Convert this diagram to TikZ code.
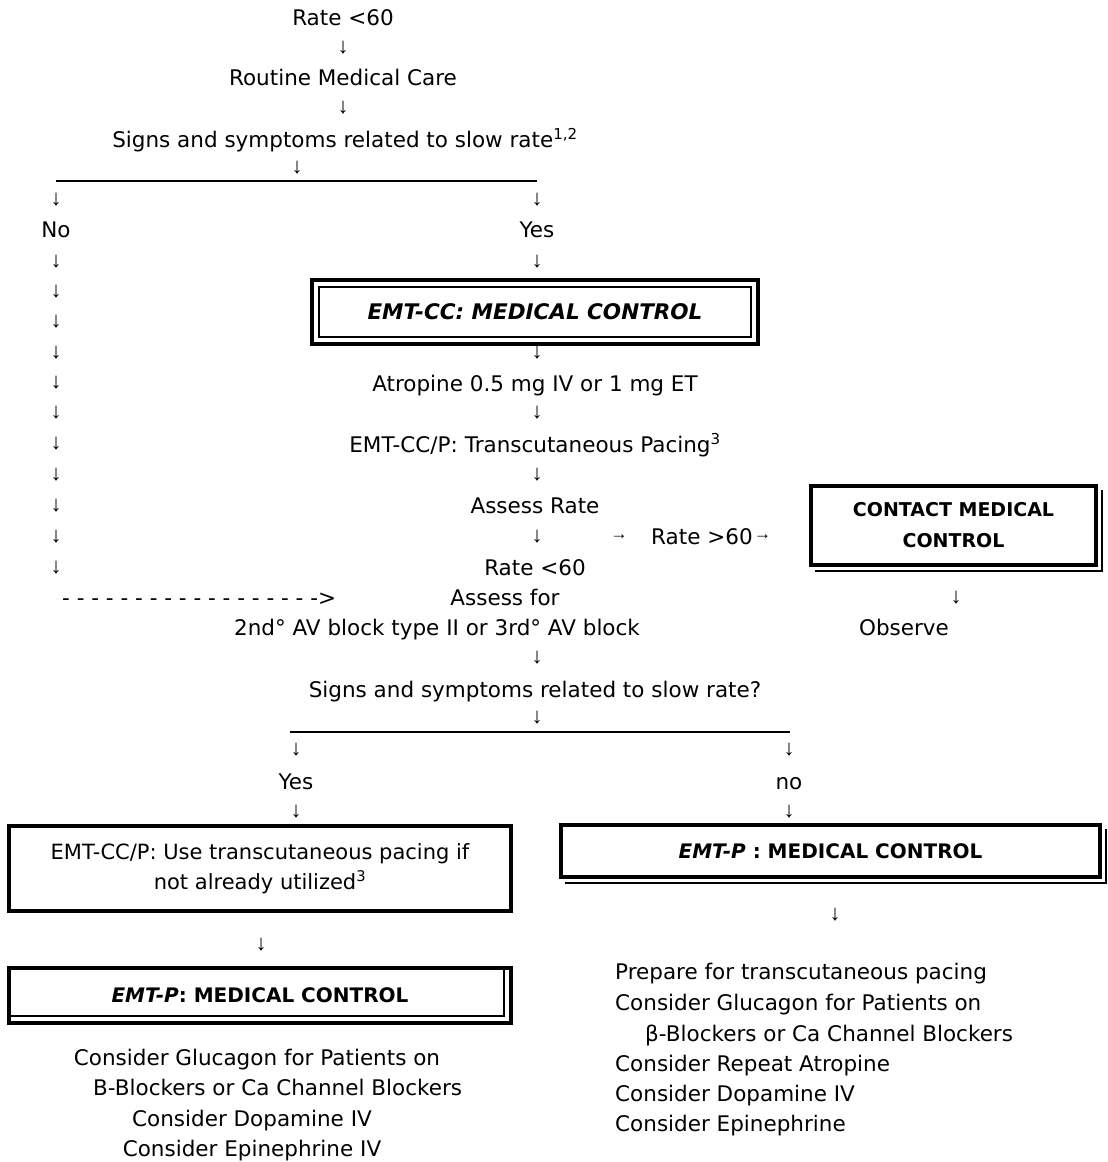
\documentclass[tikz,border=0pt]{standalone}
\usepackage{fontspec}
\setmainfont{DejaVu Sans}[BoldFont={DejaVu Sans Bold},ItalicFont={DejaVu Sans Oblique},BoldItalicFont={DejaVu Sans Bold Oblique}]
\newfontfamily\arrowfont{Liberation Sans}

\begin{document}
\begin{tikzpicture}[x=1pt, y=-1pt,
        txt/.style={anchor=base, inner sep=0pt, yshift=-7.5pt, font=\fontsize{21.5}{30}\selectfont},
        ltxt/.style={txt, anchor=base west},
        dn/.style={inner sep=0pt, font=\arrowfont\fontsize{22}{22}\selectfont},
        sm/.style={inner sep=0pt, font=\arrowfont\fontsize{17}{17}\selectfont},
        frame/.style={draw, line width=4pt, inner sep=0pt, outer sep=0pt, align=center},
        rule/.style={line width=2pt},
        thinline/.style={line width=1.5pt}]
        \useasboundingbox (0,0) rectangle (1108,1162);

        \node[txt] (rate) at (343,18) {Rate <60};
        \node[dn] (d1) at (343,48) {↓};
        \node[txt] (care) at (343,78) {Routine Medical Care};
        \node[dn] (d2) at (343,108) {↓};
        \node[txt] (signs) at (345,140) {Signs and symptoms related to slow rate\textsuperscript{1,2}};
        \node[dn] (d3) at (297,168) {↓};
        \coordinate (splitL) at (56,181);
        \coordinate (splitR) at (537,181);
        \draw[rule] (splitL) -- (splitR);
        \node[dn] (dno) at (56,200) {↓};
        \node[dn] (dyes) at (537,200) {↓};
        \node[txt] (no) at (56,230) {No};
        \node[txt] (yes) at (537,230) {Yes};
        \foreach \y [count=\i] in {262,292,322,353,383,413,444,475,506,537,568}
        {
            \node[dn] (nocol\i) at (56,\y) {↓};
        }

        \node[dn] (d4) at (537,262) {↓};
        \node[frame, minimum width=446pt, minimum height=64pt, font=\bfseries\itshape\fontsize{21.5}{26}\selectfont] (emtcc) at (535,312) {EMT-CC: MEDICAL CONTROL};
        \draw[thinline] ([shift={(7pt,-7pt)}]emtcc.north west) rectangle ([shift={(-7pt,7pt)}]emtcc.south east);
        \node[dn] (d5) at (537,353) {↓};
        \node[txt] (atro) at (535,384) {Atropine 0.5 mg IV or 1 mg ET};
        \node[dn] (d6) at (537,413) {↓};
        \node[txt] (pacing) at (535,445) {EMT-CC/P: Transcutaneous Pacing\textsuperscript{3}};
        \node[dn] (d7) at (537,475) {↓};
        \node[txt] (assess) at (535,506) {Assess Rate};
        \node[dn] (d8) at (537,537) {↓};
        \node[sm] (r1) at (619,537) {→};
        \node[ltxt] (gt) at (651,537) {Rate >60};
        \node[sm, anchor=west] (r2) at ([xshift=1pt]gt.east) {→};
        \node[txt] (lt) at (535,568) {Rate <60};

        \node[frame, minimum width=285pt, minimum height=79pt, font=\bfseries\fontsize{19}{31}\selectfont] (contact) at (953.5,525.5) {CONTACT MEDICAL\\CONTROL};
        \draw[thinline] ([shift={(6pt,-4pt)}]contact.north east) |- ([shift={(4pt,-6pt)}]contact.south west);
        \node[dn] (d9) at (956,598) {↓};
        \node[txt] (observe) at (904,628) {Observe};

        \node[ltxt] (dash) at (62,598) {- - - - - - - - - - - - - - - - - ->};
        \node[txt] (assessfor) at (505,598) {Assess for};
        \node[txt] (block) at (437,628) {2nd° AV block type II or 3rd° AV block};
        \node[dn] (d10) at (537,658) {↓};
        \node[txt] (signs2) at (535,690) {Signs and symptoms related to slow rate?};
        \node[dn] (d11) at (537,718) {↓};
        \coordinate (split2L) at (290,732);
        \coordinate (split2R) at (790,732);
        \draw[rule] (split2L) -- (split2R);
        \node[dn] (dyes2) at (296,750) {↓};
        \node[dn] (dno2) at (789,750) {↓};
        \node[txt] (yes2) at (296,782) {Yes};
        \node[txt] (no2) at (789,782) {no};
        \node[dn] (dyes3) at (296,812) {↓};
        \node[dn] (dno3) at (789,812) {↓};

        \node[frame, minimum width=502pt, minimum height=85pt, font=\fontsize{21}{30}\selectfont] (pace) at (260,868.5) {EMT-CC/P: Use transcutaneous pacing if\\not already utilized\textsuperscript{3}};
        \node[dn] (d12) at (261,945) {↓};
        \node[frame, minimum width=502pt, minimum height=55pt, font=\bfseries\fontsize{20}{24}\selectfont] (emtpl) at (260,995.5) {{\itshape EMT-P}: MEDICAL CONTROL};
        \draw[thinline] ([shift={(-7pt,-2pt)}]emtpl.north east) |- ([shift={(2pt,7pt)}]emtpl.south west);
        \node[txt] (gluc1) at (257,1058) {Consider Glucagon for Patients on};
        \node[ltxt] (block1) at (93,1088) {B-Blockers or Ca Channel Blockers};
        \node[txt] (dopa1) at (252,1119) {Consider Dopamine IV};
        \node[txt] (epi1) at (252,1149) {Consider Epinephrine IV};

        \node[frame, minimum width=539pt, minimum height=52pt, font=\bfseries\fontsize{20}{24}\selectfont] (emtpr) at (830.5,851) {{\itshape EMT-P} : MEDICAL CONTROL};
        \draw[thinline] ([shift={(6pt,-4pt)}]emtpr.north east) |- ([shift={(4pt,-6pt)}]emtpr.south west);
        \node[dn] (d13) at (835,915) {↓};
        \node[ltxt] (prep) at (615,972) {Prepare for transcutaneous pacing};
        \node[ltxt] (gluc2) at (615,1003) {Consider Glucagon for Patients on};
        \node[ltxt] (block2) at (645,1034) {β-Blockers or Ca Channel Blockers};
        \node[ltxt] (atro2) at (615,1064) {Consider Repeat Atropine};
        \node[ltxt] (dopa2) at (615,1094) {Consider Dopamine IV};
        \node[ltxt] (epi2) at (615,1124) {Consider Epinephrine};
    \end{tikzpicture}
\end{document}
